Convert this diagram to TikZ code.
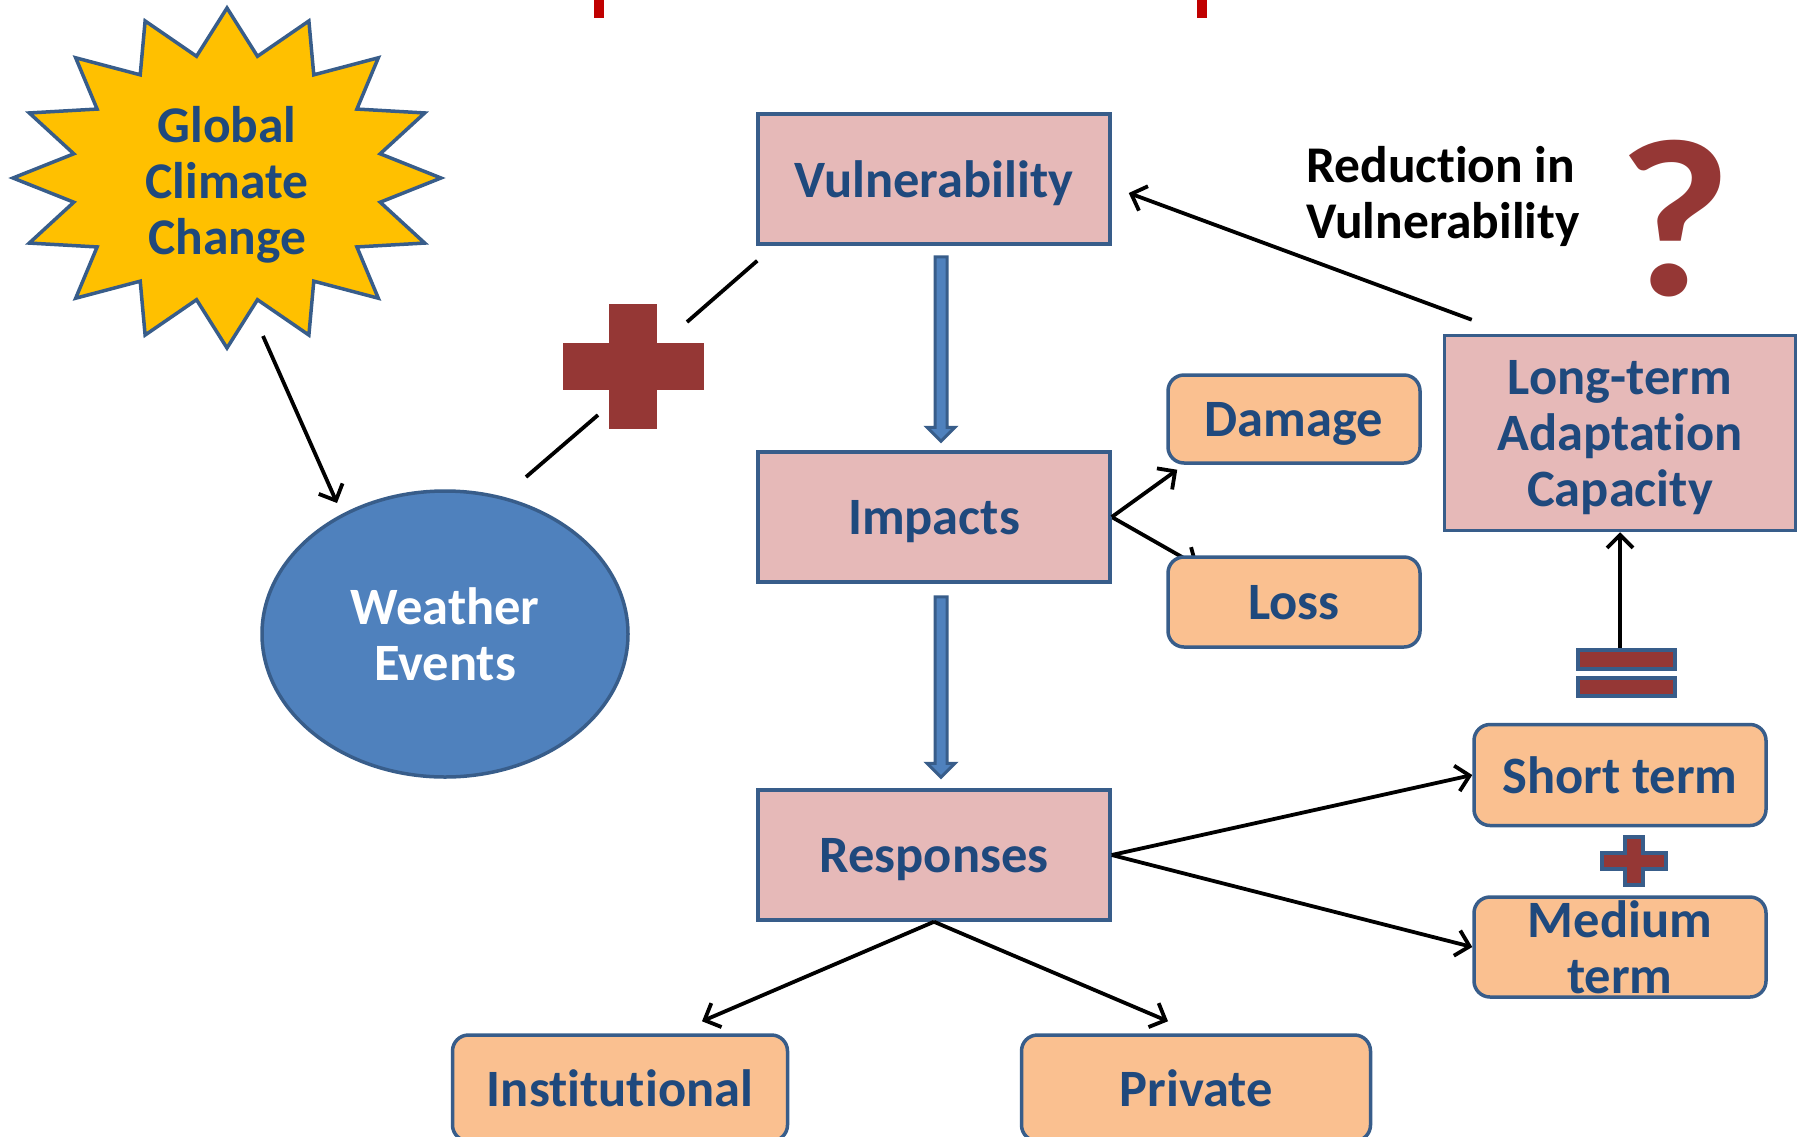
\documentclass[tikz,border=0pt]{standalone}
\usepackage{fontspec}
\setmainfont{Carlito}[RawFeature={-liga;-clig;-calt;-dlig}]
\usetikzlibrary{arrows.meta,calc,backgrounds,shapes.geometric}
\definecolor{txt}{HTML}{1F497D}
\definecolor{edge}{HTML}{385D8A}
\definecolor{pinkf}{HTML}{E6B9B8}
\definecolor{orf}{HTML}{FAC090}
\definecolor{brick}{HTML}{953735}
\definecolor{sun}{HTML}{FFC000}
\definecolor{sky}{HTML}{4F81BD}
\definecolor{topred}{HTML}{C00000}
\begin{document}
\begin{tikzpicture}[x=1pt,y=-1pt,
 every node/.style={font=\fontsize{52.5}{56}\selectfont\bfseries, text=txt, align=center, inner sep=0pt, text depth=0pt},
 pinkbox/.style={draw=edge, line width=3.5pt, fill=pinkf, minimum width=352pt, minimum height=130pt},
 orbox/.style={draw=edge, line width=3.5pt, fill=orf, rounded corners=16pt},
 link/.style={line width=3.8pt, black, -{Straight Barb[length=13pt,width=26pt]}},
 plainlink/.style={line width=3.8pt, black},
 blockarr/.style={fill=sky, draw=edge, line width=3pt, line join=miter},
 symb/.style={fill=brick, draw=edge, line width=4pt},
 starsty/.style={fill=sun, draw=edge, line width=3.5pt, line join=miter}]
\path[use as bounding box] (0,0) rectangle (1804,1136);
\clip (0,0) rectangle (1804,1136);

% top red bars
\fill[topred] (594,0) rectangle (604,18);
\fill[topred] (1197,0) rectangle (1207,18);

% star
\draw[starsty] (227,8) \foreach \k in {1,...,31}{ -- ({227+214*(1-0.27*isodd(\k))*cos(90+\k*11.25)},{178-170*(1-0.27*isodd(\k))*sin(90+\k*11.25)}) } -- cycle;
\node[font=\fontsize{51.5}{56}\selectfont\bfseries] (gcc) at (227,180) {Global\\Climate\\Change};

% ellipse
\node[ellipse, draw=edge, line width=3.5pt, fill=sky, minimum width=366pt, minimum height=286pt, text=white] (we) at (445,634) {Weather\\Events};

% boxes
\node[pinkbox] (vul) at (934,179) {Vulnerability};
\node[pinkbox] (imp) at (934,517) {Impacts};
\node[pinkbox] (res) at (934,855) {Responses};
\node[orbox, minimum width=252pt, minimum height=88pt] (dam) at (1294,419) {Damage};
\node[orbox, minimum width=252pt, minimum height=90pt] (loss) at (1294,602) {Loss};
\node[pinkbox, minimum width=351pt, minimum height=195pt] (lt) at (1620,433) {Long-term\\Adaptation\\Capacity};
\node[orbox, minimum width=292pt, minimum height=101pt] (st) at (1620,775) {Short term};
\node[orbox, minimum width=292pt, minimum height=100pt] (mt) at (1620,947) {Medium\\term};
\node[orbox, minimum width=335pt, minimum height=106pt] (ins) at (620,1088) {Institutional};
\node[orbox, minimum width=349pt, minimum height=106pt] (pri) at (1196,1088) {Private};

% texts
\node[anchor=west, align=left, text=black, font=\fontsize{51.5}{56}\selectfont\bfseries] (red) at (1306,192) {Reduction in\\Vulnerability};
\node[text=brick, font=\fontsize{225}{225}\selectfont\bfseries] (qm) at (1675,218) {\scalebox{1.1}[1]{?}};

% big plus
\coordinate (bigplus) at (633,366);
\fill[brick] ($(bigplus)+(-24,-62)$) rectangle ($(bigplus)+(24,63)$);
\fill[brick] ($(bigplus)+(-70,-23)$) rectangle ($(bigplus)+(71,24)$);

% connectors
\coordinate (gccout) at (263,336);
\draw[link] (gccout) -- ($(we.center)+(-108,-131)$);
\draw[plainlink] ($(we.center)+(81,-157)$) -- ($(bigplus)+(-35,49)$);
\draw[plainlink] ($(bigplus)+(54,-44)$) -- ($(vul.south west)+(1,15)$);

% block arrows
\coordinate (b1s) at ($(vul.south)+(7,11)$);
\coordinate (b1e) at ($(imp.north)+(7,-9)$);
\draw[blockarr] ($(b1s)+(-6,0)$) -- ($(b1s)+(6,0)$) -- ($(b1e)+(6,-14)$) -- ($(b1e)+(14,-14)$) -- (b1e) -- ($(b1e)+(-14,-14)$) -- ($(b1e)+(-6,-14)$) -- cycle;
\coordinate (b2s) at ($(imp.south)+(7,13)$);
\coordinate (b2e) at ($(res.north)+(7,-11)$);
\draw[blockarr] ($(b2s)+(-6,0)$) -- ($(b2s)+(6,0)$) -- ($(b2e)+(6,-14)$) -- ($(b2e)+(14,-14)$) -- (b2e) -- ($(b2e)+(-14,-14)$) -- ($(b2e)+(-6,-14)$) -- cycle;

\draw[link] (imp.east) -- ($(dam.south west)+(11,5)$);
\begin{scope}[on background layer]
\draw[link] (imp.east) -- ($(loss.north west)+(32,11)$);
\end{scope}
\draw[link] ($(lt.north west)+(29,-14)$) -- ($(vul.east)+(17,14)$);
\draw[link] (res.east) -- (st.west);
\draw[link] (res.east) -- (mt.west);
\draw[link] (res.south) -- ($(ins.north)+(82,-12)$);
\draw[link] (res.south) -- ($(pri.north)+(-28,-12)$);

% equals
\coordinate (eq) at (1626,673);
\draw[symb] ($(eq)+(-48,-23)$) rectangle ($(eq)+(49,-4)$);
\draw[symb] ($(eq)+(-48,5)$) rectangle ($(eq)+(49,23)$);
\draw[link] ($(eq)+(-6,-25)$) -- (lt.south);

% small plus
\coordinate (smplus) at (1634,861);
\draw[symb] ($(smplus)+(-9,-24)$) -- ($(smplus)+(9,-24)$) -- ($(smplus)+(9,-8)$) -- ($(smplus)+(32,-8)$) -- ($(smplus)+(32,8)$) -- ($(smplus)+(9,8)$) -- ($(smplus)+(9,24)$) -- ($(smplus)+(-9,24)$) -- ($(smplus)+(-9,8)$) -- ($(smplus)+(-32,8)$) -- ($(smplus)+(-32,-8)$) -- ($(smplus)+(-9,-8)$) -- cycle;
\end{tikzpicture}
\end{document}
